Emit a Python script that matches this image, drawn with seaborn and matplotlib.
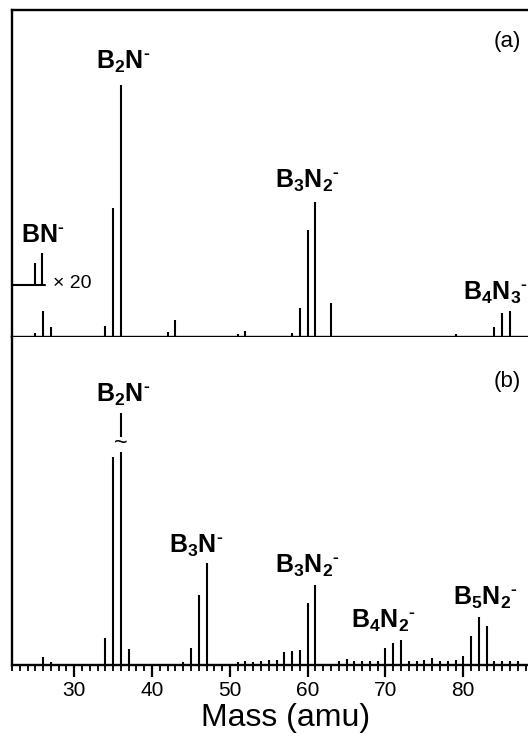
import numpy as np
import pandas as pd
import seaborn as sns
import matplotlib.pyplot as plt
from matplotlib.ticker import MultipleLocator

# peak lists (mass in amu, height in arb. units)
a_mass = [25, 26, 27, 34, 35, 36, 42, 43, 51, 52, 58, 59, 60, 61, 63, 79, 84, 85, 86]
a_height = [4, 26, 10, 11, 129, 252, 5, 17, 3, 6, 4, 29, 107, 135, 34, 3, 10, 24, 26]

b_mass = [26, 27, 34, 35, 36, 37, 44, 45, 46, 47, 51, 52, 53, 54, 55, 56, 57, 58, 59,
          60, 61, 64, 65, 66, 67, 68, 69, 70, 71, 72, 73, 74, 75, 76, 77, 78, 79, 80,
          81, 82, 83, 84, 85, 86, 87]
b_height = [8, 3, 27, 208, 213, 16, 3, 17, 70, 102, 3, 4, 3, 4, 5, 5, 13, 14, 15,
            62, 80, 4, 6, 4, 4, 4, 4, 17, 22, 25, 4, 4, 5, 7, 4, 4, 5, 9,
            29, 48, 39, 4, 4, 4, 4]

major_ticks = [30, 40, 50, 60, 70, 80]

# x20 magnified BN- trace in panel (a)
inset_mass = [24.9, 25.9]
inset_height = [22, 32]
inset_base = 52

df_a = pd.DataFrame({'mass': a_mass, 'intensity': a_height})
df_b = pd.DataFrame({'mass': b_mass, 'intensity': b_height})

sns.set_style('ticks')
plt.rcParams['font.family'] = ['Liberation Sans', 'DejaVu Sans']
plt.rcParams['mathtext.fontset'] = 'custom'
plt.rcParams['mathtext.rm'] = 'Liberation Sans:bold'
plt.rcParams['mathtext.bf'] = 'Liberation Sans:bold'
plt.rcParams['mathtext.it'] = 'Liberation Sans:italic'
plt.rcParams['text.color'] = 'black'
plt.rcParams['axes.edgecolor'] = 'black'
plt.rcParams['axes.labelcolor'] = 'black'
plt.rcParams['xtick.color'] = 'black'

# the original axes run a little past the right edge of the picture (cropped figure)
fig = plt.figure(figsize=(5.28, 7.43), dpi=100)
ax_a = fig.add_axes([0.0227, 0.5464, 1.036, 0.4401])
ax_b = fig.add_axes([0.0227, 0.1050, 1.036, 0.4414])

for ax, df, ymax in [(ax_a, df_a, 327), (ax_b, df_b, 328)]:
    ax.vlines(df['mass'], 0, df['intensity'], color='black', lw=1.5)
    ax.set_xlim(22, 92.3)
    ax.set_ylim(0, ymax)
    ax.set_yticks([])
    ax.set_xticks(major_ticks)
    ax.xaxis.set_minor_locator(MultipleLocator(1))
    ax.tick_params(axis='x', which='major', length=8.6, width=1.6, direction='out',
                   labelsize=15, pad=3)
    ax.tick_params(axis='x', which='minor', length=4.3, width=1.3, direction='out')
    for s in ax.spines.values():
        s.set_linewidth(1.7)

sns.despine(ax=ax_a, top=False, right=True)
sns.despine(ax=ax_b, top=True, right=True)
ax_a.tick_params(axis='x', labelbottom=False)
ax_b.set_xlabel('Mass (amu)', fontsize=23, labelpad=2)

lab = dict(fontsize=18, ha='center', va='center')
MINUS = r'^{\text{-}}'

# panel (a)
ax_a.plot([22, 26.2], [inset_base, inset_base], color='black', lw=1.5)
ax_a.vlines(inset_mass, inset_base, [inset_base + h for h in inset_height], color='black', lw=1.5)
ax_a.text(27.3, inset_base + 2, '\u00d7 20', fontsize=14, ha='left', va='center')
ax_a.text(25.9, 102, r'$\mathbf{BN}' + MINUS + '$', **lab)
ax_a.text(36.3, 275, r'$\mathbf{B_2N}' + MINUS + '$', **lab)
ax_a.text(60.0, 156, r'$\mathbf{B_3N_2}' + MINUS + '$', **lab)
ax_a.text(80.0, 44, r'$\mathbf{B_4N_3}' + MINUS + '$', fontsize=18, ha='left', va='center')
ax_a.text(85.6, 296, '(a)', fontsize=16, ha='center', va='center')

# panel (b)
top36 = b_height[b_mass.index(36)]
ax_b.vlines(36, top36 + 15, top36 + 39, color='black', lw=1.5)
ax_b.text(36, top36 + 8, '~', fontsize=17, ha='center', va='center')
ax_b.text(36.3, 270, r'$\mathbf{B_2N}' + MINUS + '$', **lab)
ax_b.text(45.6, 119, r'$\mathbf{B_3N}' + MINUS + '$', **lab)
ax_b.text(60.0, 99, r'$\mathbf{B_3N_2}' + MINUS + '$', **lab)
ax_b.text(69.7, 44, r'$\mathbf{B_4N_2}' + MINUS + '$', **lab)
ax_b.text(82.8, 67, r'$\mathbf{B_5N_2}' + MINUS + '$', **lab)
ax_b.text(85.6, 284, '(b)', fontsize=16, ha='center', va='center')

fig.savefig('out.png', dpi=100)
